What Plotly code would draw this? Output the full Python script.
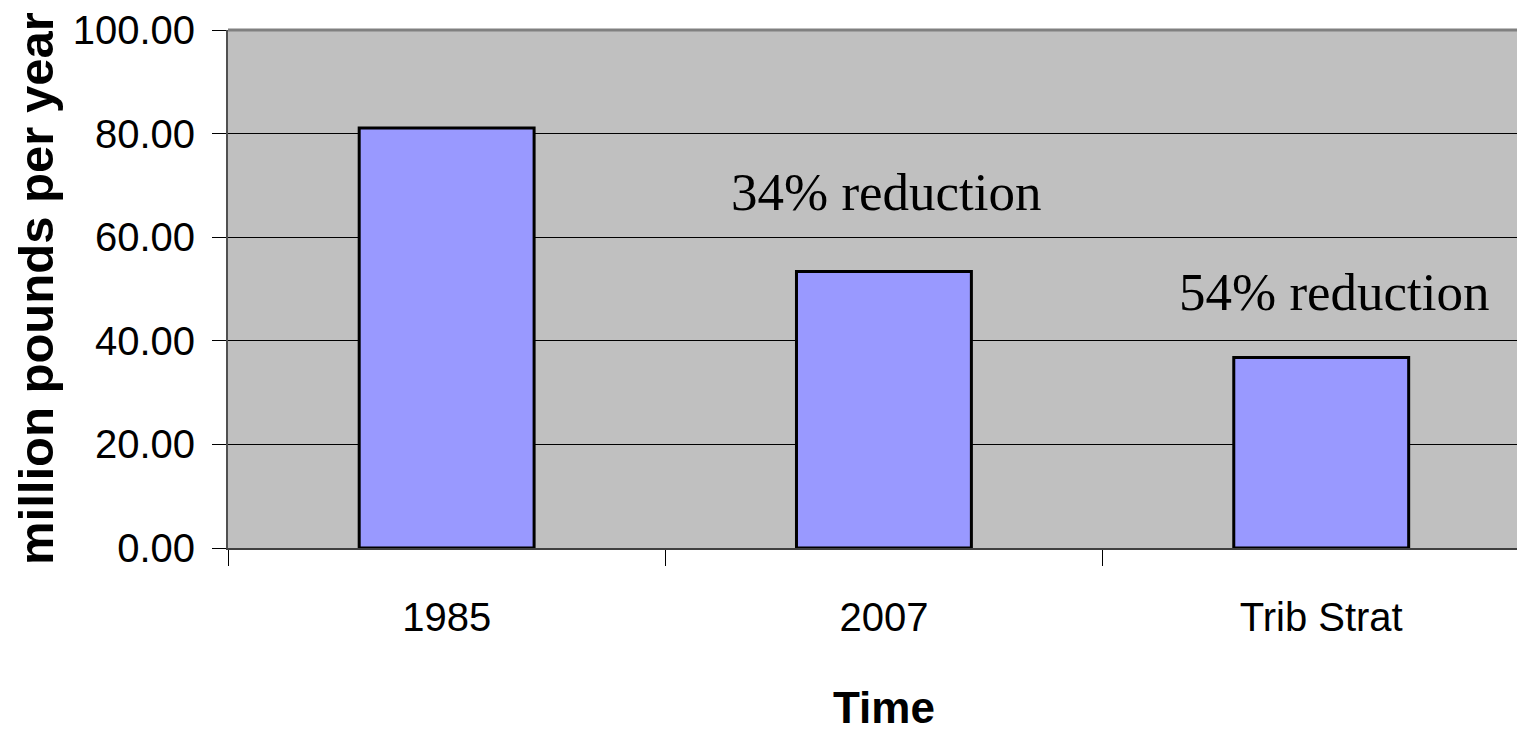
import plotly.graph_objects as go

categories = ["1985", "2007", "Trib Strat"]
values = [81.1, 53.4, 36.8]
ytick_vals = [0, 20, 40, 60, 80, 100]
ytick_text = ["0.00", "20.00", "40.00", "60.00", "80.00", "100.00"]
notes = ["34% reduction", "54% reduction"]
note_pos = [(1, 68.8, 3), (2, 49.5, 13)]

SANS = "Liberation Sans, Arial, sans-serif"

fig = go.Figure()
fig.add_trace(go.Bar(
    x=categories, y=values,
    marker=dict(color="#9999FF", line=dict(color="black", width=3)),
    width=0.4,
))

for txt, (xx, yy, xs) in zip(notes, note_pos):
    fig.add_annotation(x=xx, y=yy, xref="x", yref="y", text=txt, showarrow=False,
                       font=dict(family="Liberation Serif, Times New Roman, serif", size=53, color="black"),
                       xanchor="center", yanchor="middle", xshift=xs)

# x-axis title
fig.add_annotation(x=1, y=0, xref="x", yref="paper", text="<b>Time</b>", showarrow=False,
                   font=dict(family=SANS, size=44, color="black"),
                   xanchor="center", yanchor="top", yshift=-133)
# y-axis title
fig.add_annotation(x=0, y=0.5, xref="paper", yref="paper", text="<b>million pounds per year</b>",
                   showarrow=False, textangle=-90,
                   font=dict(family=SANS, size=49, color="black"),
                   xanchor="center", yanchor="middle", xshift=-192)

# top border
fig.add_shape(type="line", xref="paper", yref="paper", x0=0, x1=1, y0=1, y1=1,
              line=dict(color="#808080", width=3))

fig.update_layout(
    width=1517, height=725,
    margin=dict(l=220, r=0, t=22, b=185),
    paper_bgcolor="white", plot_bgcolor="#C0C0C0",
    showlegend=False,
    xaxis=dict(
        type="category", range=[-0.5, 2.466],
        tickson="boundaries", ticks="outside", ticklen=16, tickcolor="black", tickwidth=1,
        showline=True, linecolor="#404040", linewidth=2, showgrid=False, zeroline=False,
        tickfont=dict(family=SANS, size=40, color="black"), ticklabelstandoff=33,
    ),
    yaxis=dict(
        range=[0, 100], tickmode="array", tickvals=ytick_vals, ticktext=ytick_text,
        ticks="outside", ticklen=14, tickcolor="black", tickwidth=1,
        showline=True, linecolor="#505050", linewidth=2,
        showgrid=True, gridcolor="black", gridwidth=1, zeroline=False,
        tickfont=dict(family=SANS, size=40, color="black"), ticklabelstandoff=9,
    ),
)

fig.write_html("out.html")
